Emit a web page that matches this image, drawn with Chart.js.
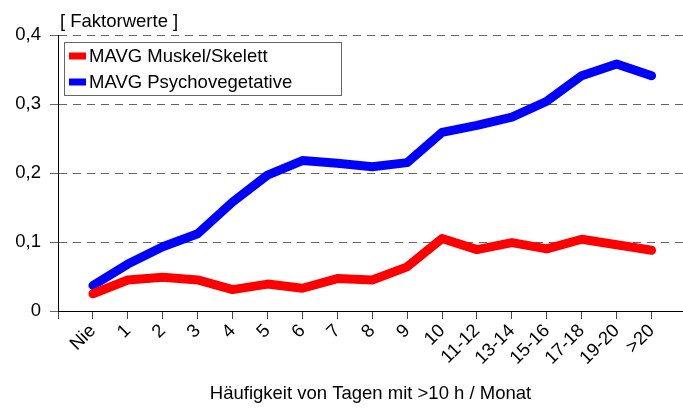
<!DOCTYPE html>
<html>
<head>
<meta charset="utf-8">
<script src="https://cdn.jsdelivr.net/npm/chart.js@4"></script>
<style>
    body { margin: 0; background: #fff; }
    #box { width: 683px; height: 412px; }
</style>
</head>
<body>
<div id="box"><canvas id="grafico"></canvas></div>
<script>
    // Werte
    var kategorien = ['Nie', '1', '2', '3', '4', '5', '6', '7', '8', '9', '10',
        '11-12', '13-14', '15-16', '17-18', '19-20', '>20'];
    var muskelSkelett = [0.025, 0.045, 0.049, 0.045, 0.031, 0.039, 0.033, 0.047, 0.045, 0.064, 0.105,
        0.089, 0.099, 0.090, 0.104, 0.096, 0.088];
    var psychovegetativ = [0.037, 0.068, 0.093, 0.112, 0.158, 0.197, 0.218, 0.214, 0.209, 0.215, 0.259,
        0.269, 0.281, 0.304, 0.341, 0.358, 0.341];
    var yTicks = [0, 0.1, 0.2, 0.3, 0.4];

    var schrift = 'Liberation Sans, Arial, sans-serif';

    function punkte(werte) {
        return werte.map(function (v, i) { return { x: i, y: v }; });
    }

    // Legende mit Rahmen und Einheit oben links
    var extras = {
        id: 'extras',
        afterDraw: function (chart) {
            var ctx = chart.ctx;
            var area = chart.chartArea;
            ctx.save();
            ctx.fillStyle = '#000';
            ctx.font = '18.5px ' + schrift;
            ctx.textBaseline = 'alphabetic';
            ctx.fillText('[ Faktorwerte ]', area.left + 2, 27);

            var x = area.left + 6;
            var y = area.top + 7;
            ctx.strokeStyle = '#666';
            ctx.lineWidth = 1;
            ctx.strokeRect(x + 0.5, y + 0.5, 277, 53);
            ctx.font = '18.5px ' + schrift;
            ctx.textBaseline = 'middle';
            chart.data.datasets.forEach(function (ds, i) {
                var yy = y + 14 + i * 26;
                ctx.fillStyle = ds.borderColor;
                ctx.fillRect(x + 5, yy - 3.5, 17, 7);
                ctx.fillStyle = '#000';
                ctx.fillText(ds.label, x + 25, yy + 1);
            });
            ctx.restore();
        }
    };

    var config = {
        type: 'line',
        data: {
            datasets: [{
                label: 'MAVG Muskel/Skelett',
                data: punkte(muskelSkelett),
                borderColor: '#ff0000',
                backgroundColor: '#ff0000',
                borderWidth: 9,
                pointRadius: 0,
                borderCapStyle: 'round',
                borderJoinStyle: 'round'
            }, {
                label: 'MAVG Psychovegetative',
                data: punkte(psychovegetativ),
                borderColor: '#0000ff',
                backgroundColor: '#0000ff',
                borderWidth: 9,
                pointRadius: 0,
                borderCapStyle: 'round',
                borderJoinStyle: 'round'
            }]
        },
        options: {
            responsive: true,
            maintainAspectRatio: false,
            animation: false,
            layout: { padding: { top: 35, right: 0, left: 0, bottom: 0 } },
            plugins: {
                legend: { display: false },
                tooltip: { enabled: false }
            },
            scales: {
                x: {
                    type: 'linear',
                    min: -1,
                    max: 16.9,
                    afterBuildTicks: function (scale) {
                        var t = [];
                        for (var i = -1; i < kategorien.length; i++) t.push({ value: i });
                        scale.ticks = t;
                    },
                    afterFit: function (scale) { scale.height = 101; },
                    ticks: {
                        color: '#000',
                        font: { family: schrift, size: 18.5 },
                        minRotation: 45,
                        maxRotation: 45,
                        padding: 1,
                        autoSkip: false,
                        callback: function (v) { return kategorien[v] || ''; }
                    },
                    grid: {
                        drawOnChartArea: false,
                        drawTicks: true,
                        tickLength: 8,
                        color: '#444'
                    },
                    border: { display: true, color: '#000', width: 1 },
                    title: {
                        display: true,
                        text: 'Häufigkeit von Tagen mit >10 h / Monat',
                        color: '#000',
                        font: { family: schrift, size: 18.5 },
                        padding: { top: 0, bottom: 7 }
                    }
                },
                y: {
                    min: 0,
                    max: 0.4,
                    afterBuildTicks: function (scale) {
                        scale.ticks = yTicks.map(function (v) { return { value: v }; });
                    },
                    afterFit: function (scale) { scale.width = 58; },
                    ticks: {
                        color: '#000',
                        font: { family: schrift, size: 18.5 },
                        padding: 9,
                        callback: function (v) {
                            return v === 0 ? '0' : v.toFixed(1).replace('.', ',');
                        }
                    },
                    grid: {
                        color: '#666',
                        lineWidth: 1,
                        tickLength: 8,
                        tickColor: '#666'
                    },
                    border: { display: true, color: '#000', width: 1, dash: [8, 6] }
                }
            }
        },
        plugins: [extras]
    };

    var myChart = new Chart(document.getElementById('grafico'), config);
</script>
</body>
</html>
